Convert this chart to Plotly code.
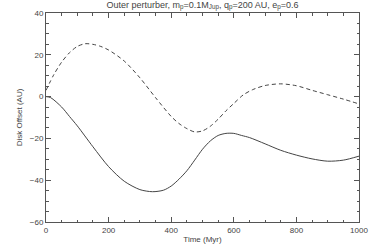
import plotly.graph_objects as go

# Dashed curve (time in Myr, offset in AU)
t_dash = [0, 25, 50, 75, 100, 125, 150, 175, 200, 250, 300, 350, 400, 425, 450, 475, 500,
          525, 550, 575, 600, 630, 660, 700, 750, 800, 850, 900, 950, 1000]
v_dash = [3, 10.5, 16.5, 21, 24, 25.3, 25, 24, 22.3, 17, 9, -0.5, -9.5, -12.9, -15.3, -16.9,
          -16.4, -14.2, -10.8, -6.8, -3.3, 0.8, 3.3, 5.3, 6.1, 5.2, 3, 0.9, -1.2, -3.5]

# Solid curve
t_solid = [0, 15, 50, 75, 100, 150, 200, 250, 300, 340, 375, 400, 425, 450, 475, 500, 525,
           550, 575, 600, 625, 650, 700, 750, 800, 850, 900, 950, 1000]
v_solid = [0, -0.5, -5, -9.5, -14, -24, -33.5, -40.5, -44.5, -45.5, -44.8, -42.8, -39.5,
           -35.5, -30.4, -25.2, -21.2, -18.6, -17.6, -17.6, -18.6, -19.6, -22.6, -25.7, -28,
           -29.8, -30.9, -30.4, -28.5]

title_text = ("Outer perturber, m<sub>p</sub>=0.1M<sub>Jup</sub>, "
              "q<sub>p</sub>=200 AU, e<sub>p</sub>=0.6")
x_title = "Time (Myr)"
y_title = "Disk Offset (AU)"

line_col = "#444444"
axis_col = "#555555"
font = dict(family="Liberation Sans, Arial, sans-serif", size=8, color="#444444")

fig = go.Figure()
fig.add_trace(go.Scatter(x=t_dash, y=v_dash, mode="lines",
                         line=dict(color=line_col, width=1, dash="4px,3px", shape="spline",
                                   smoothing=0.8),
                         showlegend=False))
fig.add_trace(go.Scatter(x=t_solid, y=v_solid, mode="lines",
                         line=dict(color=line_col, width=1, shape="spline", smoothing=0.8),
                         showlegend=False))

axis_common = dict(showgrid=False, zeroline=False, showline=True, linecolor=axis_col,
                   linewidth=1, mirror="allticks", ticks="inside", ticklen=5,
                   tickcolor=axis_col, tickwidth=1, tickfont=font, automargin=False)

fig.update_xaxes(range=[0, 1000], dtick=200, tick0=0,
                 minor=dict(dtick=50, ticks="inside", ticklen=2.5, tickcolor=axis_col),
                 title=dict(text=x_title, font=font, standoff=2), **axis_common)
fig.update_yaxes(range=[-60, 40], dtick=20, tick0=0,
                 minor=dict(dtick=5, ticks="inside", ticklen=2.5, tickcolor=axis_col),
                 title=dict(text=y_title, font=font, standoff=6), **axis_common)

fig.update_layout(
    width=374, height=249,
    margin=dict(l=46, r=15, t=13, b=27),
    paper_bgcolor="white", plot_bgcolor="white",
    font=font,
    title=dict(text=title_text, x=0.5, xanchor="center", xref="paper",
               y=0.995, yanchor="top", automargin=False,
               font=dict(family=font["family"], size=9, color="#444444")),
)

fig.write_html("out.html", config={"displayModeBar": False},
               post_script="document.body.style.margin='0';document.body.style.padding='0';")
